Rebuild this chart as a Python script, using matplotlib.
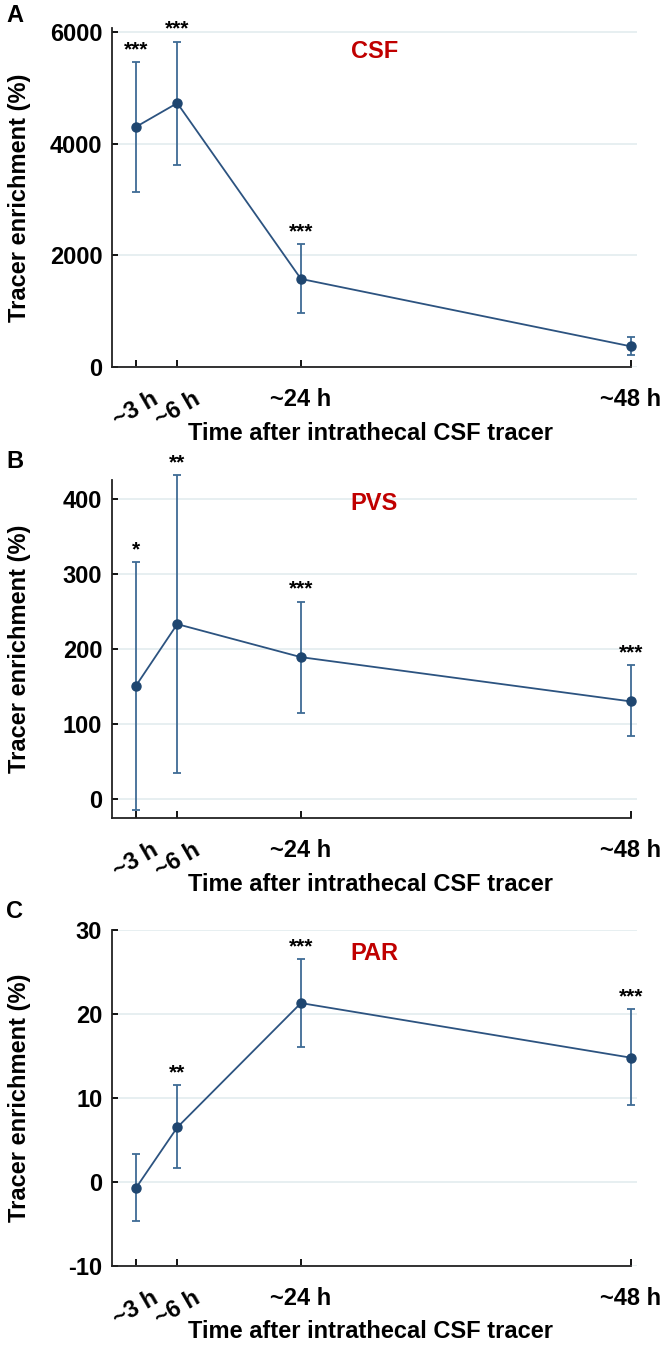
import matplotlib
matplotlib.use("Agg")
import matplotlib.pyplot as plt

plt.rcParams['font.family'] = ['Liberation Sans', 'DejaVu Sans']
plt.rcParams['font.weight'] = 'bold'

# time points (position on the axis is not linear in hours)
time_labels = ["~3 h", "~6 h", "~24 h", "~48 h"]
time_pos = [0, 4, 16, 48]

# panel A - CSF
csf_mean = [4300, 4725, 1577, 370]
csf_upper = [5458, 5827, 2196, 530]
csf_lower = [3137, 3625, 964, 214]
csf_stars = ["***", "***", "***", ""]

# panel B - PVS
pvs_mean = [151, 233, 189, 130]
pvs_upper = [316, 431, 263, 178]
pvs_lower = [-14, 35, 115, 84]
pvs_stars = ["*", "**", "***", "***"]

# panel C - PAR
par_mean = [-0.7, 6.5, 21.3, 14.8]
par_upper = [3.35, 11.5, 26.5, 20.6]
par_lower = [-4.7, 1.65, 16.1, 9.2]
par_stars = ["", "**", "***", "***"]

line_col = '#2c5380'
err_col = '#3f6b95'

W, H = 662, 1345
fig = plt.figure(figsize=(W / 100, H / 100), dpi=100)


def px_axes(left, right, top, bottom):
    return fig.add_axes([left / W, 1 - bottom / H, (right - left) / W, (bottom - top) / H])


def panel(ax, mean, upper, lower, stars, ylim, yticks, name, letter, letter_y):
    yerr = [[m - l for m, l in zip(mean, lower)], [u - m for m, u in zip(mean, upper)]]
    cont = ax.errorbar(time_pos, mean, yerr=yerr, color=line_col, ecolor=err_col, lw=1.3,
                       elinewidth=1.3, capsize=3, capthick=1.3, marker='o', ms=6.5,
                       mfc='#1f4670', mec='#1f4670', zorder=3)
    for art in cont.get_children():
        art.set_clip_on(False)
    for x, u, s in zip(time_pos, upper, stars):
        if s:
            ax.annotate(s, (x, u), xytext=(0, 2), textcoords='offset points',
                        ha='center', va='bottom', fontsize=15, fontweight='bold',
                        annotation_clip=False)
    ax.set_xlim(-2.33, 48.6)
    ax.set_ylim(*ylim)
    ax.set_yticks(yticks)
    ax.set_yticklabels([str(t) for t in yticks])
    ax.set_xticks(time_pos)
    ax.set_xticklabels(time_labels)
    for lab in ax.get_xticklabels()[:2]:
        lab.set_rotation(30)
    ax.grid(axis='y', color='#e3ecef', lw=1.2)
    ax.set_axisbelow(True)
    for sp in ['top', 'right']:
        ax.spines[sp].set_visible(False)
    for sp in ['left', 'bottom']:
        ax.spines[sp].set_color('#222222')
        ax.spines[sp].set_linewidth(1.3)
    ax.spines['bottom'].set_bounds(-2.33, time_pos[-1])
    ax.tick_params(axis='x', direction='in', length=5, width=1.3, pad=15, labelsize=17)
    ax.tick_params(axis='y', direction='in', length=4, width=1.3, pad=7, labelsize=17)
    ax.set_ylabel("Tracer enrichment (%)", fontsize=17, fontweight='bold')
    ax.yaxis.set_label_coords(-0.154, 0.5)
    ax.set_xlabel("Time after intrathecal CSF tracer", fontsize=17, fontweight='bold')
    ax.xaxis.set_label_coords(0.493, -0.162)
    ax.text(0.5, 0.93, name, transform=ax.transAxes, ha='center', va='center',
            color='#c00000', fontsize=17, fontweight='bold')
    fig.text(6 / W, 1 - letter_y / H, letter, ha='left', va='center',
             fontsize=17, fontweight='bold')


axA = px_axes(112, 637, 28, 367)
panel(axA, csf_mean, csf_upper, csf_lower, csf_stars, (0, 6070), [0, 2000, 4000, 6000],
      "CSF", "A", 15)

axB = px_axes(112, 637, 480, 818)
panel(axB, pvs_mean, pvs_upper, pvs_lower, pvs_stars, (-25.3, 425), [0, 100, 200, 300, 400],
      "PVS", "B", 462)

axC = px_axes(112, 637, 930, 1266)
panel(axC, par_mean, par_upper, par_lower, par_stars, (-10, 30), [-10, 0, 10, 20, 30],
      "PAR", "C", 912)

fig.savefig("out.png", dpi=100)
